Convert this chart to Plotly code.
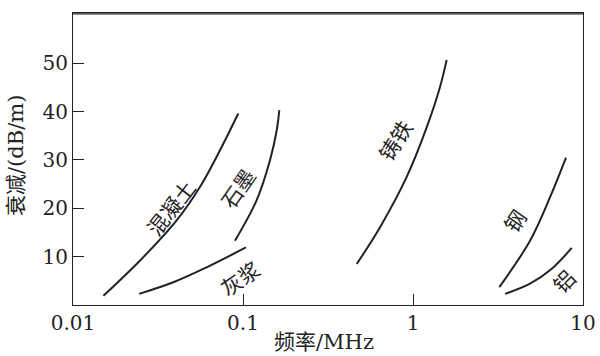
import numpy as np
import plotly.graph_objects as go

# Data (frequency in MHz, attenuation in dB/m)
concrete_f = [0.0151, 0.0248, 0.0407, 0.0558, 0.0732, 0.0938]
concrete_a = [1.9, 9.2, 17.5, 24.4, 32.0, 39.6]

graphite_f = [0.0897, 0.120, 0.144, 0.158, 0.1635]
graphite_a = [13.3, 21.6, 29.9, 36.2, 40.3]

mortar_f = [0.0245, 0.0389, 0.0611, 0.104]
mortar_a = [2.3, 4.7, 7.8, 11.9]

castiron_f = [0.467, 0.640, 0.918, 1.205, 1.442, 1.578]
castiron_a = [8.5, 16.1, 26.5, 36.8, 45.1, 50.7]

steel_f = [3.22, 4.88, 6.40, 7.94]
steel_a = [3.7, 13.3, 22.3, 30.5]

aluminum_f = [3.48, 4.88, 6.55, 8.59]
aluminum_a = [2.3, 4.4, 7.5, 11.8]

x_tickvals = [0.01, 0.1, 1, 10]
x_ticktext = ["0.01", "0.1", "1", "10"]
y_tickvals = [10, 20, 30, 40, 50]

x_title = "频率/MHz"
y_title = "衰减/(dB/m)"

labels = ["混凝土", "石墨", "灰浆", "铸铁", "钢", "铝"]
label_f = [0.0377, 0.0923, 0.096, 0.783, 3.98, 7.63]
label_a = [20.2, 24.3, 5.5, 34.1, 17.5, 5.0]
label_angle = [-52, -55, -35, -58, -55, -45]

series = [
    (concrete_f, concrete_a),
    (graphite_f, graphite_a),
    (mortar_f, mortar_a),
    (castiron_f, castiron_a),
    (steel_f, steel_a),
    (aluminum_f, aluminum_a),
]

INK = "#222222"
LATIN = "DejaVu Serif"
TITLE_FONT = "DejaVu Serif, Noto Sans CJK SC, serif"

fig = go.Figure()
for fx, ay in series:
    fig.add_trace(go.Scatter(
        x=fx, y=ay, mode="lines",
        line=dict(color=INK, width=2, shape="spline", smoothing=1.0),
        showlegend=False, hoverinfo="skip",
    ))

for txt, fx, ay, ang in zip(labels, label_f, label_a, label_angle):
    fig.add_annotation(
        x=np.log10(fx), y=ay, xref="x", yref="y", text=txt,
        showarrow=False, textangle=ang,
        font=dict(family="Noto Sans CJK SC", size=21, color=INK),
    )

L, R, T, B = 73, 17, 13, 51
W, H = 600, 356
pw, ph = W - L - R, H - T - B

# axis titles placed as paper-anchored annotations (pixel anchors converted)
fig.add_annotation(
    x=(324 - L) / pw, y=(H - B - 342) / ph, xref="paper", yref="paper",
    xanchor="center", yanchor="middle", text=x_title, showarrow=False,
    font=dict(family=TITLE_FONT, size=21, color=INK),
)
fig.add_annotation(
    x=(16 - L) / pw, y=(H - B - 156) / ph, xref="paper", yref="paper",
    xanchor="center", yanchor="middle", text=y_title, showarrow=False,
    textangle=-90, font=dict(family=TITLE_FONT, size=21, color=INK),
)

# plot frame (top edge drawn explicitly, slightly inset so it is not clipped)
fig.add_shape(type="line", xref="paper", yref="paper", x0=0, y0=0.997, x1=1, y1=0.997,
              line=dict(color=INK, width=1.3), layer="above")

fig.update_layout(
    width=W, height=H,
    margin=dict(l=L, r=R, t=T, b=B, autoexpand=False),
    paper_bgcolor="white", plot_bgcolor="white",
    font=dict(family=LATIN, color=INK),
)
fig.update_xaxes(
    type="log", range=[-2, 1], automargin=False,
    tickvals=x_tickvals, ticktext=x_ticktext,
    ticks="inside", ticklen=11, tickcolor=INK, tickwidth=1,
    showline=True, linecolor=INK, linewidth=1, mirror=True,
    showgrid=False, zeroline=False,
    tickfont=dict(family=LATIN, size=20, color=INK),
)
fig.update_yaxes(
    range=[0, 60.4], automargin=False,
    tickvals=y_tickvals,
    ticks="inside", ticklen=11, tickcolor=INK, tickwidth=1,
    showline=True, linecolor=INK, linewidth=1, mirror=True,
    showgrid=False, zeroline=False,
    tickfont=dict(family=LATIN, size=20, color=INK),
)

fig.write_html(
    "out.html",
    config={"displayModeBar": False},
    post_script="document.body.style.margin='0';document.body.style.overflow='hidden';",
)
